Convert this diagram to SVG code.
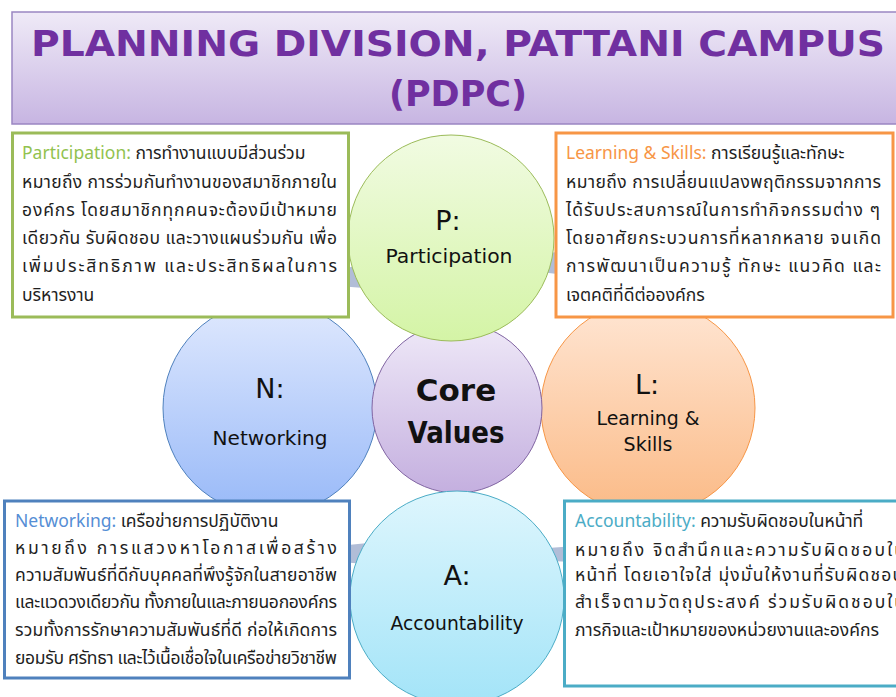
<svg xmlns="http://www.w3.org/2000/svg" width="896" height="697" viewBox="0 0 896 697">
<defs>
<linearGradient id="gTitle" x1="0" y1="0" x2="0" y2="1"><stop offset="0" stop-color="#EFEAF7"/><stop offset="1" stop-color="#C7B5E2"/></linearGradient>
<linearGradient id="gP" x1="0" y1="0" x2="0" y2="1"><stop offset="0" stop-color="#F1FBE2"/><stop offset="1" stop-color="#D4F4A6"/></linearGradient>
<linearGradient id="gC" x1="0" y1="0" x2="0" y2="1"><stop offset="0" stop-color="#EFE9F8"/><stop offset="1" stop-color="#C4AFDF"/></linearGradient>
<linearGradient id="gN" x1="0" y1="0" x2="0" y2="1"><stop offset="0" stop-color="#E0E9FE"/><stop offset="1" stop-color="#98B9F8"/></linearGradient>
<linearGradient id="gL" x1="0" y1="0" x2="0" y2="1"><stop offset="0" stop-color="#FFE6D4"/><stop offset="1" stop-color="#FBBA86"/></linearGradient>
<linearGradient id="gA" x1="0" y1="0" x2="0" y2="1"><stop offset="0" stop-color="#DEF6FD"/><stop offset="1" stop-color="#A3E4F8"/></linearGradient>
</defs>
<style>
.title{font-family:"Comic Sans MS","DejaVu Sans",sans-serif;font-weight:bold;font-size:35px;fill:#7030A0;text-anchor:middle}
.big{font-family:"Comic Sans MS","DejaVu Sans",sans-serif;font-size:27px;fill:#111;text-anchor:middle}
.lbl{font-family:"Comic Sans MS","DejaVu Sans",sans-serif;font-size:19px;fill:#111;text-anchor:middle}
.core{font-family:"Comic Sans MS","DejaVu Sans",sans-serif;font-weight:bold;font-size:31px;fill:#111;text-anchor:middle}
.box{fill:#FFFFFF;stroke-width:3}
.th{font-family:"Tahoma","Noto Sans Thai","Noto Sans",sans-serif;font-size:17.5px;fill:#1E1E1E}
.conn{fill:#B1BDD7}
</style>
<rect width="896" height="697" fill="#FFFFFF"/>
<g id="title">
<rect x="12" y="12" width="890" height="112" fill="url(#gTitle)" stroke="#9B86C2" stroke-width="1.5"/>
<text class="title" x="458" y="56" textLength="854" lengthAdjust="spacingAndGlyphs">PLANNING DIVISION, PATTANI CAMPUS</text>
<text class="title" x="458" y="106">(PDPC)</text>
</g>
<g id="connectors">
<polygon class="conn" points="338,270 364,264 364,288 338,286"/>
<polygon class="conn" points="540,254 566,251 566,275 540,272"/>
<polygon class="conn" points="338,546 368,543 368,564 338,562"/>
<polygon class="conn" points="548,548 576,546 576,562 548,561"/>
</g>
<g id="node-N">
<circle cx="270" cy="408" r="107" fill="url(#gN)" stroke="#4F81BD" stroke-width="1"/>
<text class="big" x="270" y="398">N:</text>
<text class="lbl" x="270" y="445" textLength="115" lengthAdjust="spacingAndGlyphs">Networking</text>
</g>
<g id="node-L">
<circle cx="648" cy="408" r="107" fill="url(#gL)" stroke="#F79646" stroke-width="1"/>
<text class="big" x="647" y="394">L:</text>
<text class="lbl" x="648" y="425" textLength="103" lengthAdjust="spacingAndGlyphs">Learning &amp;</text>
<text class="lbl" x="648" y="451">Skills</text>
</g>
<g id="node-core">
<circle cx="457" cy="408" r="85" fill="url(#gC)" stroke="#8064A2" stroke-width="1"/>
<text class="core" x="456" y="401">Core</text>
<text class="core" x="456" y="443" textLength="97" lengthAdjust="spacingAndGlyphs">Values</text>
</g>
<g id="node-P">
<circle cx="451" cy="238" r="103" fill="url(#gP)" stroke="#9BBB59" stroke-width="1"/>
<text class="big" x="448" y="230">P:</text>
<text class="lbl" x="449" y="263" textLength="127" lengthAdjust="spacingAndGlyphs">Participation</text>
</g>
<g id="node-A">
<circle cx="457" cy="598" r="107" fill="url(#gA)" stroke="#4BACC6" stroke-width="1"/>
<text class="big" x="457" y="585">A:</text>
<text class="lbl" x="457" y="630" textLength="133" lengthAdjust="spacingAndGlyphs">Accountability</text>
</g>
<g id="box-P">
<rect class="box" x="12.5" y="133" width="336" height="184" stroke="#9BBB59"/>
<text class="th" x="22" y="159"><tspan fill="#92C24F">Participation: </tspan>การทำงานแบบมีส่วนร่วม</text>
<text class="th" x="22" y="188" textLength="315" lengthAdjust="spacing">หมายถึง การร่วมกันทำงานของสมาชิกภายใน</text>
<text class="th" x="22" y="216" textLength="315" lengthAdjust="spacing">องค์กร โดยสมาชิกทุกคนจะต้องมีเป้าหมาย</text>
<text class="th" x="22" y="244" textLength="315" lengthAdjust="spacing">เดียวกัน รับผิดชอบ และวางแผนร่วมกัน เพื่อ</text>
<text class="th" x="22" y="272" textLength="315" lengthAdjust="spacing">เพิ่มประสิทธิภาพ และประสิทธิผลในการ</text>
<text class="th" x="22" y="301">บริหารงาน</text>
</g>
<g id="box-L">
<rect class="box" x="556" y="133" width="337" height="184" stroke="#F79646"/>
<text class="th" x="566" y="159"><tspan fill="#F79646">Learning &amp; Skills: </tspan>การเรียนรู้และทักษะ</text>
<text class="th" x="566" y="188" textLength="315" lengthAdjust="spacing">หมายถึง  การเปลี่ยนแปลงพฤติกรรมจากการ</text>
<text class="th" x="566" y="216" textLength="314" lengthAdjust="spacing">ได้รับประสบการณ์ในการทำกิจกรรมต่าง ๆ</text>
<text class="th" x="566" y="244" textLength="315" lengthAdjust="spacing">โดยอาศัยกระบวนการที่หลากหลาย จนเกิด</text>
<text class="th" x="566" y="272" textLength="315" lengthAdjust="spacing">การพัฒนาเป็นความรู้ ทักษะ แนวคิด และ</text>
<text class="th" x="566" y="301">เจตคติที่ดีต่อองค์กร</text>
</g>
<g id="box-N">
<rect class="box" x="4.5" y="501" width="345" height="177" stroke="#4F81BD"/>
<text class="th" x="15" y="527"><tspan fill="#558ED5">Networking: </tspan>เครือข่ายการปฏิบัติงาน</text>
<text class="th" x="15" y="554" textLength="322" lengthAdjust="spacing">หมายถึง การแสวงหาโอกาสเพื่อสร้าง</text>
<text class="th" x="15" y="581" textLength="322" lengthAdjust="spacing">ความสัมพันธ์ที่ดีกับบุคคลที่พึงรู้จักในสายอาชีพ</text>
<text class="th" x="15" y="608" textLength="322" lengthAdjust="spacing">และแวดวงเดียวกัน ทั้งภายในและภายนอกองค์กร</text>
<text class="th" x="15" y="636" textLength="322" lengthAdjust="spacing">รวมทั้งการรักษาความสัมพันธ์ที่ดี ก่อให้เกิดการ</text>
<text class="th" x="15" y="664" textLength="322" lengthAdjust="spacing">ยอมรับ ศรัทธา และไว้เนื้อเชื่อใจในเครือข่ายวิชาชีพ</text>
</g>
<g id="box-A">
<rect class="box" x="564.5" y="501" width="340" height="185" stroke="#4BACC6"/>
<text class="th" x="575" y="527"><tspan fill="#4BACC6">Accountability: </tspan>ความรับผิดชอบในหน้าที่</text>
<text class="th" x="575" y="556" textLength="330" lengthAdjust="spacing">หมายถึง  จิตสำนึกและความรับผิดชอบใน</text>
<text class="th" x="575" y="581" textLength="328" lengthAdjust="spacing">หน้าที่ โดยเอาใจใส่ มุ่งมั่นให้งานที่รับผิดชอบ</text>
<text class="th" x="575" y="608" textLength="330" lengthAdjust="spacing">สำเร็จตามวัตถุประสงค์ ร่วมรับผิดชอบใน</text>
<text class="th" x="575" y="636">ภารกิจและเป้าหมายของหน่วยงานและองค์กร</text>
</g>
</svg>
